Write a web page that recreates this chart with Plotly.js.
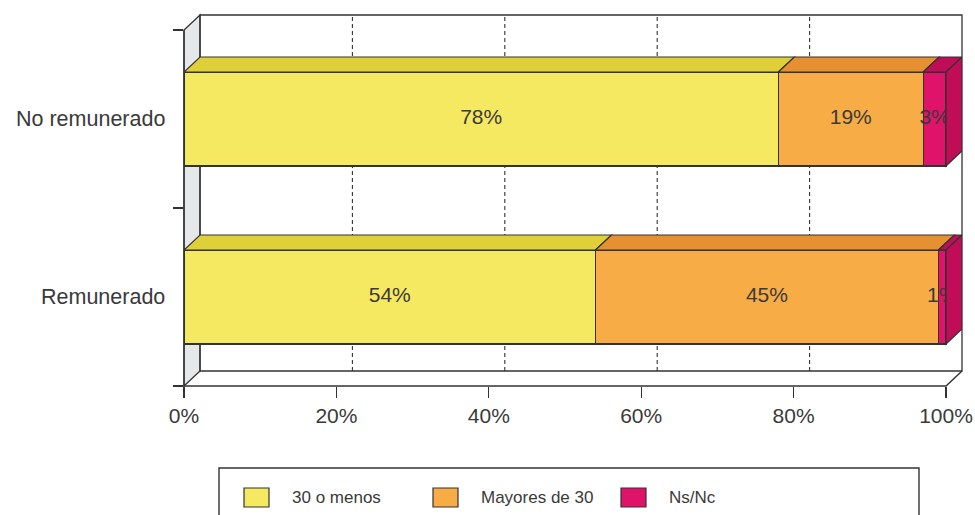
<!DOCTYPE html>
<html>
<head>
<meta charset="utf-8">
<script src="https://cdn.plot.ly/plotly-3.0.1.min.js"></script>
<style>html,body{margin:0;padding:0;background:#fff;}#chart{width:975px;height:515px;}</style>
</head>
<body>
<div id="chart"></div>
<script>
// ---- data ----
const categories = ['Remunerado', 'No remunerado'];
const seriesNames = ['30 o menos', 'Mayores de 30', 'Ns/Nc'];
const menos30 = [54, 78];
const mayores30 = [45, 19];
const nsnc = [1, 3];
const xTickVals = [0, 20, 40, 60, 80, 100];
const xTickText = ['0%', '20%', '40%', '60%', '80%', '100%'];

// ---- style ----
const frontColors = ['#F6E962', '#F8AC45', '#E0136B'];
const topColors = ['#DFD03A', '#E59131', '#C10C57'];
const LINE = '#333333';
const FONT = 'Liberation Sans, Arial, sans-serif';
const TXT = '#3a3a3a';

// geometry (pixels -> axis units)
const ML = 184, MT = 15, PW = 778, PH = 371, W = 975, H = 515;
const PX_PER_X = 762 / 100;          // 0..100 spans 762 px on the front plane
const PX_PER_Y = 178;                // one category step
const DX = 16 / PX_PER_X;            // depth offset in x units
const DY = 15 / PX_PER_Y;            // depth offset in y units
const XMAX = 100 + DX;
const YMIN = -0.5, YMAX = 1.5 + DY;
const BARW = 94 / PX_PER_Y;

const series = [menos30, mayores30, nsnc];
const yIdx = categories.map((c, i) => i);

// paper conversions
const pX = x => x / XMAX;
const pY = y => (y - YMIN) / (YMAX - YMIN);
const ppX = px => (px - ML) / PW;
const ppY = py => (MT + PH - py) / PH;

const traces = series.map((vals, s) => ({
  type: 'bar', orientation: 'h', name: seriesNames[s],
  x: vals, y: yIdx, width: BARW,
  marker: { color: frontColors[s], line: { color: LINE, width: 1.2 } },
  hoverinfo: 'skip', showlegend: false
}));

// value labels at segment centres
const lx = [], ly = [], lt = [];
yIdx.forEach((yi, i) => {
  let cum = 0;
  series.forEach(vals => {
    lx.push(cum + vals[i] / 2); ly.push(yi); lt.push(vals[i] + '%');
    cum += vals[i];
  });
});
traces.push({
  type: 'scatter', mode: 'text', x: lx, y: ly, text: lt,
  textposition: 'middle center',
  textfont: { family: FONT, size: 21, color: TXT },
  hoverinfo: 'skip', showlegend: false, cliponaxis: false
});

const shapes = [];
// left wall (grey)
shapes.push({ type: 'path', xref: 'paper', yref: 'paper', layer: 'below',
  path: `M ${pX(0)},${pY(YMIN)} L ${pX(DX)},${pY(YMIN + DY)} L ${pX(DX)},${pY(YMAX)} L ${pX(0)},${pY(YMAX - DY)} Z`,
  fillcolor: '#E6E7E9', line: { color: LINE, width: 1.3 } });
// back wall rectangle
shapes.push({ type: 'rect', xref: 'paper', yref: 'paper', layer: 'below',
  x0: pX(DX), x1: pX(XMAX), y0: pY(YMIN + DY), y1: pY(YMAX),
  line: { color: LINE, width: 1.3 } });
// dashed gridlines on back wall
xTickVals.filter(v => v > 0 && v < 100).forEach(v => {
  shapes.push({ type: 'line', xref: 'paper', yref: 'paper', layer: 'below',
    x0: pX(v + DX), x1: pX(v + DX), y0: pY(YMIN + DY), y1: pY(YMAX),
    line: { color: LINE, width: 1.1, dash: '4px,3px' } });
});
// top faces and right side face of bars
yIdx.forEach((yi, i) => {
  let cum = 0;
  const yt = yi + BARW / 2, yb = yi - BARW / 2;
  series.forEach((vals, s) => {
    const x0 = cum, x1 = cum + vals[i];
    shapes.push({ type: 'path', xref: 'x', yref: 'y', layer: 'above',
      path: `M ${x0},${yt} L ${x0 + DX},${yt + DY} L ${x1 + DX},${yt + DY} L ${x1},${yt} Z`,
      fillcolor: topColors[s], line: { color: LINE, width: 1.2 } });
    cum = x1;
  });
  const last = series.length - 1;
  shapes.push({ type: 'path', xref: 'x', yref: 'y', layer: 'above',
    path: `M ${cum},${yb} L ${cum + DX},${yb + DY} L ${cum + DX},${yt + DY} L ${cum},${yt} Z`,
    fillcolor: topColors[last], line: { color: LINE, width: 1.2 } });
});
// front frame lines
shapes.push({ type: 'path', xref: 'paper', yref: 'paper', layer: 'above',
  path: `M ${pX(0)},${pY(YMAX - DY)} L ${pX(0)},${pY(YMIN)} L ${pX(100)},${pY(YMIN)} L ${pX(100 + DX)},${pY(YMIN + DY)}`,
  line: { color: LINE, width: 1.4 } });

// legend (custom, to match swatch geometry)
shapes.push({ type: 'rect', xref: 'paper', yref: 'paper', layer: 'above',
  x0: ppX(219), x1: ppX(919), y0: ppY(540), y1: ppY(468),
  line: { color: LINE, width: 1.4 } });
const swX = [244, 433, 621], txX = [290, 479, 667];
const annotations = [];
seriesNames.forEach((n, s) => {
  shapes.push({ type: 'rect', xref: 'paper', yref: 'paper', layer: 'above',
    x0: ppX(swX[s]), x1: ppX(swX[s] + 25), y0: ppY(507), y1: ppY(488),
    fillcolor: frontColors[s], line: { color: LINE, width: 1.2 } });
  annotations.push({ xref: 'paper', yref: 'paper', x: ppX(txX[s]), y: ppY(497.5),
    xanchor: 'left', yanchor: 'middle', showarrow: false, text: n,
    font: { family: FONT, size: 17, color: TXT } });
});
// category labels
categories.forEach((c, i) => {
  annotations.push({ xref: 'paper', yref: 'y', x: 0, y: i, xanchor: 'right', yanchor: 'middle',
    xshift: -17, showarrow: false, text: c, font: { family: FONT, size: 21.5, color: TXT } });
});

const layout = {
  width: W, height: H,
  margin: { l: ML, r: W - ML - PW, t: MT, b: H - MT - PH, pad: 0 },
  paper_bgcolor: '#ffffff', plot_bgcolor: 'rgba(0,0,0,0)',
  barmode: 'stack', showlegend: false,
  font: { family: FONT, size: 21, color: TXT },
  xaxis: { range: [0, XMAX], tickvals: xTickVals, ticktext: xTickText,
    ticks: 'outside', ticklen: 11, tickwidth: 1.2, tickcolor: LINE,
    showgrid: false, zeroline: false, showline: false, fixedrange: true,
    tickfont: { family: FONT, size: 21, color: TXT } },
  yaxis: { range: [YMIN, YMAX], tickvals: [-0.5, 0.5, 1.5], ticktext: ['', '', ''],
    ticks: 'outside', ticklen: 10, tickwidth: 1.2, tickcolor: LINE,
    showgrid: false, zeroline: false, showline: false, showticklabels: false, fixedrange: true },
  shapes: shapes,
  annotations: annotations
};

Plotly.newPlot('chart', traces, layout, { staticPlot: true, displayModeBar: false });
</script>
</body>
</html>
